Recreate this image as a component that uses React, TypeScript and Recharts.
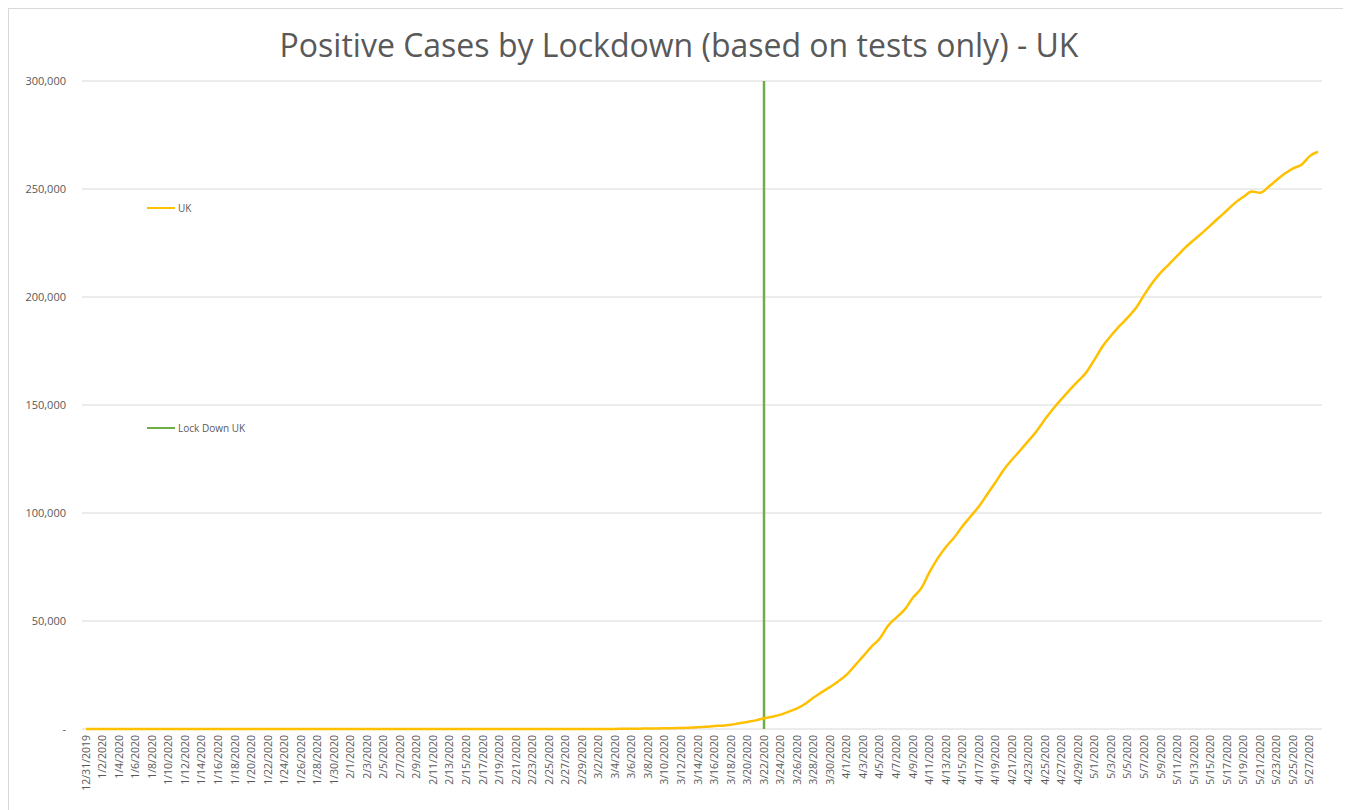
import { LineChart, Line, XAxis, YAxis, CartesianGrid, ReferenceLine } from 'recharts'

const TITLE = 'Positive Cases by Lockdown (based on tests only) - UK'

// 12/31/2019 .. 5/28/2020, one category per day
const START = new Date(2019, 11, 31)
const DAY_COUNT = 150
const dates: string[] = Array.from({ length: DAY_COUNT }, (_, i) => {
  const d = new Date(START.getFullYear(), START.getMonth(), START.getDate() + i)
  return `${d.getMonth() + 1}/${d.getDate()}/${d.getFullYear()}`
})

// cumulative positive cases, UK
const decJan = [
  0, 0, 0, 0, 0, 0, 0, 0, 0, 0, 0, 0, 0, 0, 0, 0,
  0, 0, 0, 0, 0, 0, 0, 0, 0, 0, 0, 0, 0, 0, 0, 2,
]
const feb = [
  2, 2, 2, 2, 2, 3, 3, 3, 3, 8, 9, 9, 9, 9, 9, 9,
  9, 9, 9, 9, 9, 9, 9, 9, 9, 13, 13, 19, 23,
]
const mar = [
  23, 36, 40, 51, 85, 115, 163, 206, 273, 321, 373, 456, 590, 797, 1061, 1391,
  1543, 1950, 2626, 3269, 3983, 5018, 5683, 6650, 8077, 9529, 11658, 14543, 17089, 19522, 22141,
]
const apr = [
  25150, 29474, 33718, 38168, 41903, 47806, 51608, 55242, 60733, 65077, 72500, 78991, 84279, 88621, 93873,
  98476, 103093, 108692, 114217, 120067, 124743, 129044, 133495, 138078, 143464, 148377, 152840, 157149, 161145, 165221,
]
const may = [
  171253, 177454, 182260, 186599, 190584, 194990, 201101, 206715, 211364, 215260, 219183, 223060, 226463, 229705,
  233151, 236711, 240161, 243695, 246406, 248818, 248293, 250908, 254195, 257154, 259559, 261184, 265227, 267240,
]
const ukCases = [...decJan, ...feb, ...mar, ...apr, ...may]

const LOCKDOWN_DATE = '3/22/2020'
const Y_TICKS = [0, 50000, 100000, 150000, 200000, 250000, 300000]

const LEGEND = [
  { label: 'UK', color: '#FFC000', top: 199 },
  { label: 'Lock Down UK', color: '#70AD47', top: 419 },
]

const data = dates.map((date, i) => ({ date, uk: ukCases[i] }))

const FONT = '"Open Sans", "Noto Sans", sans-serif'
const TEXT = '#595959'

function DateTick({ x, y, payload }: any) {
  return (
    <text
      x={x}
      y={y}
      transform={`rotate(-90, ${x}, ${y})`}
      textAnchor="end"
      dy="0.35em"
      fill={TEXT}
      fontSize={10.5}
      fontFamily={FONT}
    >
      {payload.value}
    </text>
  )
}

export default function App() {
  return (
    <div
      style={{
        position: 'relative',
        width: 1340,
        height: 802,
        border: '1px solid #d9d9d9',
        borderBottom: 'none',
        background: '#fff',
        fontFamily: FONT,
      }}
    >
      <div
        style={{
          position: 'absolute',
          top: 14,
          left: 0,
          width: '100%',
          textAlign: 'center',
          fontSize: 32,
          color: TEXT,
          whiteSpace: 'nowrap',
        }}
      >
        {TITLE}
      </div>

      <LineChart
        width={1340}
        height={800}
        data={data}
        margin={{ top: 72, right: 27, bottom: 10, left: 0 }}
      >
        <CartesianGrid stroke="#d9d9d9" vertical={false} />
        <XAxis
          dataKey="date"
          interval={1}
          padding={{ left: 4, right: 4 }}
          axisLine={false}
          tickLine={false}
          tickSize={6}
          tickMargin={0}
          height={70}
          tick={<DateTick />}
        />
        <YAxis
          domain={[0, 300000]}
          ticks={Y_TICKS}
          width={73}
          axisLine={false}
          tickLine={false}
          tickSize={6}
          tickMargin={10}
          tick={{ fill: TEXT, fontSize: 11, fontFamily: FONT }}
          tickFormatter={(v) => (v === 0 ? '-' : Number(v).toLocaleString('en-US'))}
        />
        <ReferenceLine x={LOCKDOWN_DATE} stroke="#70AD47" strokeWidth={2.5} />
        <Line
          type="monotone"
          dataKey="uk"
          stroke="#FFC000"
          strokeWidth={2.5}
          dot={false}
          isAnimationActive={false}
        />
      </LineChart>

      {LEGEND.map((item) => (
        <div
          key={item.label}
          style={{
            position: 'absolute',
            left: 138,
            top: item.top - 8,
            display: 'flex',
            alignItems: 'center',
            fontSize: 10,
            color: TEXT,
            height: 16,
          }}
        >
          <span style={{ display: 'inline-block', width: 28, height: 2.5, background: item.color, marginRight: 3 }} />
          {item.label}
        </div>
      ))}
    </div>
  )
}
